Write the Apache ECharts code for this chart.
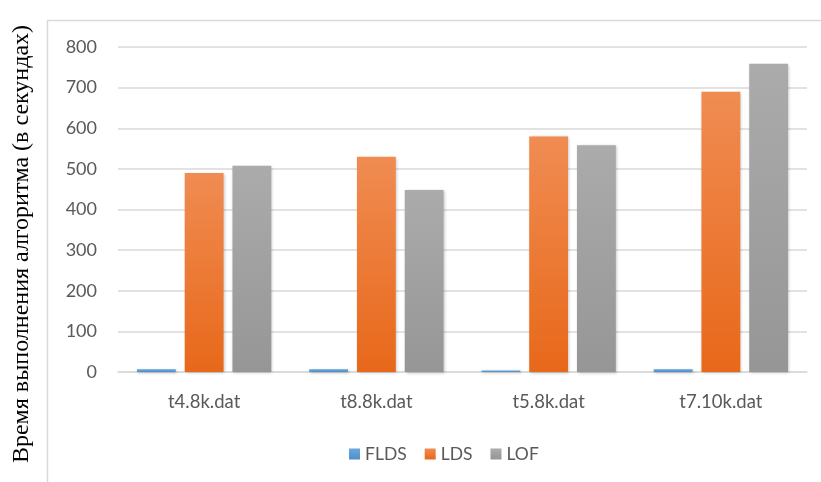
<!DOCTYPE html>
<html>
<head>
<meta charset="utf-8">
<script src="https://cdn.jsdelivr.net/npm/echarts@6/dist/echarts.min.js"></script>
<style>
  html, body { margin: 0; padding: 0; background: #fff; }
  #chart { width: 821px; height: 482px; }
</style>
</head>
<body>
<div id="chart"></div>
<script>
// Runtime of each algorithm per dataset, seconds
const categories = ['t4.8k.dat', 't8.8k.dat', 't5.8k.dat', 't7.10k.dat'];
const fldsValues = [7, 7, 4, 7];
const ldsValues = [490, 530, 580, 690];
const lofValues = [508, 448, 558, 759];
const yTicks = [0, 100, 200, 300, 400, 500, 600, 700, 800];
const axisTitle = 'Время выполнения алгоритма (в секундах)';

const labelFont = 'Lato, "Open Sans", sans-serif';

function grad(top, bottom) {
  return new echarts.graphic.LinearGradient(0, 0, 0, 1, [
    { offset: 0, color: top },
    { offset: 1, color: bottom }
  ]);
}

function barSeries(name, data, top, bottom) {
  return {
    name: name,
    type: 'bar',
    data: data,
    barGap: '23%',
    barCategoryGap: '22%',
    itemStyle: {
      color: grad(top, bottom),
      shadowColor: 'rgba(0,0,0,0.25)',
      shadowBlur: 3,
      shadowOffsetX: 1,
      shadowOffsetY: 1
    }
  };
}

const chart = echarts.init(document.getElementById('chart'), null, { renderer: 'canvas' });
chart.setOption({
  animation: false,
  backgroundColor: '#ffffff',
  grid: { left: 118, right: 14, top: 47, bottom: 110, containLabel: false },
  legend: {
    data: ['FLDS', 'LDS', 'LOF'],
    left: 344,
    top: 440,
    itemWidth: 11,
    itemHeight: 11,
    itemGap: 18,
    icon: 'rect',
    textStyle: { fontFamily: labelFont, fontSize: 17.5, color: '#595959' }
  },
  xAxis: {
    type: 'category',
    data: categories,
    axisLine: { lineStyle: { color: '#d9d9d9', width: 1.5 } },
    axisTick: { show: false },
    axisLabel: { fontFamily: labelFont, fontSize: 18.5, color: '#595959', margin: 21 }
  },
  yAxis: {
    type: 'value',
    min: 0,
    max: yTicks[yTicks.length - 1],
    interval: yTicks[1] - yTicks[0],
    axisLine: { show: false },
    axisTick: { show: false },
    splitLine: { lineStyle: { color: '#d9d9d9', width: 1.5 } },
    axisLabel: { fontFamily: labelFont, fontSize: 18, color: '#595959', margin: 21 }
  },
  series: [
    barSeries('FLDS', fldsValues, '#6aa7dc', '#4f8fcb'),
    barSeries('LDS', ldsValues, '#f08c52', '#e8681a'),
    barSeries('LOF', lofValues, '#ababab', '#969696')
  ],
  graphic: [
    { type: 'line', shape: { x1: 47.5, y1: 20, x2: 47.5, y2: 482 }, style: { stroke: '#d9d9d9', lineWidth: 1.5 } },
    { type: 'line', shape: { x1: 47, y1: 20.5, x2: 821, y2: 20.5 }, style: { stroke: '#d9d9d9', lineWidth: 1.5 } },
    {
      type: 'text',
      x: 22,
      y: 244,
      rotation: Math.PI / 2,
      style: {
        text: axisTitle,
        font: '24px "Liberation Serif", "DejaVu Serif", serif',
        fill: '#000000',
        align: 'center',
        verticalAlign: 'middle'
      }
    }
  ]
});
</script>
</body>
</html>
